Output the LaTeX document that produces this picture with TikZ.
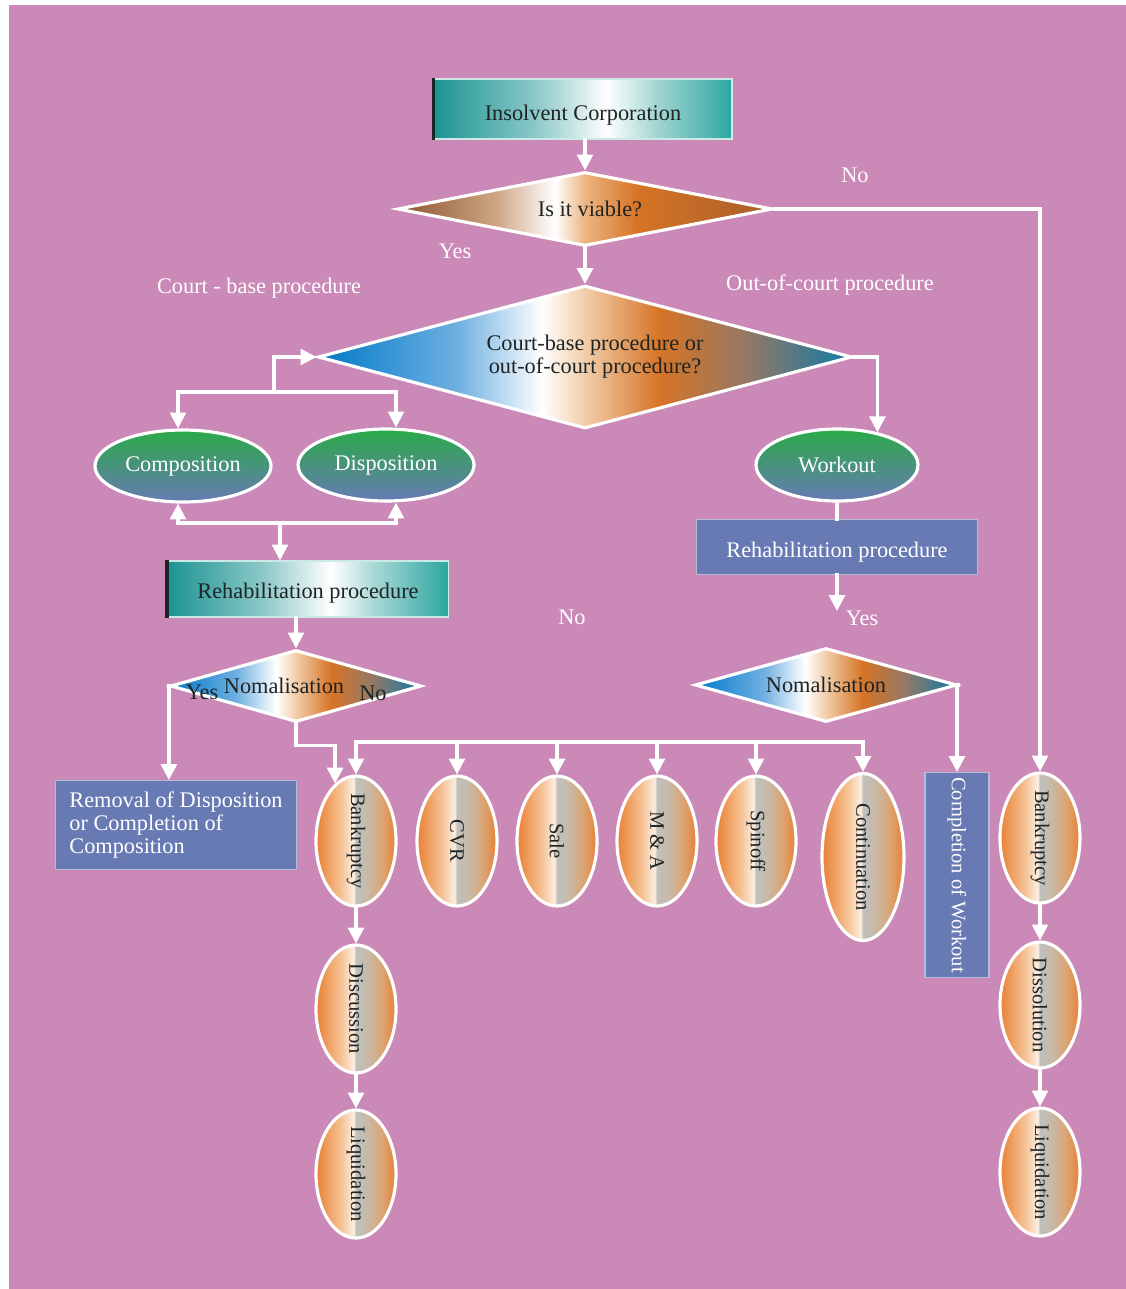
\documentclass[tikz,border=0pt]{standalone}
\usepackage{fontspec}
\setmainfont{Liberation Serif}
\usetikzlibrary{shapes.geometric,arrows.meta}

\newcommand{\pxl}{0.02cm}

\definecolor{bgpink}{RGB}{202,137,182}
\definecolor{inkdark}{RGB}{30,35,35}
\definecolor{slate}{RGB}{103,122,180}
\definecolor{leafgreen}{RGB}{42,170,72}
\definecolor{tealL}{RGB}{28,148,146}
\definecolor{tealM}{RGB}{140,200,200}
\definecolor{tealN}{RGB}{165,215,212}
\definecolor{tealR}{RGB}{44,166,160}
\definecolor{brownL}{RGB}{140,84,48}
\definecolor{tanL}{RGB}{205,165,130}
\definecolor{peach}{RGB}{236,180,130}
\definecolor{orangeD}{RGB}{214,116,38}
\definecolor{brownR}{RGB}{168,94,40}
\definecolor{blueL}{RGB}{0,122,200}
\definecolor{blueM}{RGB}{110,175,225}
\definecolor{peachL}{RGB}{242,205,170}
\definecolor{dusk}{RGB}{150,120,100}
\definecolor{tealB}{RGB}{15,122,168}
\definecolor{ovalO}{RGB}{232,128,52}
\definecolor{ovalP}{RGB}{246,196,152}
\definecolor{ovalW}{RGB}{252,238,225}
\definecolor{ovalG}{RGB}{192,192,186}
\definecolor{ovalT}{RGB}{218,166,118}

\pgfdeclarehorizontalshading{tealbar}{100bp}{color(0bp)=(tealL); color(25bp)=(tealL); color(42bp)=(tealM); color(54bp)=(white); color(62bp)=(tealN); color(75bp)=(tealR); color(100bp)=(tealR)}
\pgfdeclarehorizontalshading{brownrhomb}{100bp}{color(0bp)=(brownL); color(25bp)=(brownL); color(38bp)=(tanL); color(46bp)=(white); color(50bp)=(peach); color(57bp)=(orangeD); color(75bp)=(brownR); color(100bp)=(brownR)}
\pgfdeclarehorizontalshading{bluerhomb}{100bp}{color(0bp)=(blueL); color(25bp)=(blueL); color(38bp)=(blueM); color(46bp)=(white); color(50bp)=(peachL); color(57bp)=(orangeD); color(65bp)=(dusk); color(75bp)=(tealB); color(100bp)=(tealB)}
\pgfdeclarehorizontalshading{ovalshade}{100bp}{color(0bp)=(ovalO); color(25bp)=(ovalO); color(41bp)=(ovalP); color(48.5bp)=(ovalW); color(50bp)=(ovalG); color(56bp)=(ovalG!80!ovalT); color(66bp)=(ovalT); color(75bp)=(ovalO); color(100bp)=(ovalO)}

\tikzset{
  conn/.style={white, line width=1.8pt, line cap=rect},
  arr/.style={conn, -{Triangle[width=9pt,length=9pt]}},
  tealbox/.style={rectangle, shade, shading=tealbar, draw=white!75!tealR, line width=0.6pt, text=inkdark, inner sep=0pt},
  slatebox/.style={rectangle, fill=slate, draw=slate!50!white, line width=0.6pt, text=white, inner sep=0pt},
  rhomb/.style={diamond, shade, draw=white, line width=1.8pt, text=inkdark, inner sep=0pt, align=center},
  leaf/.style={ellipse, top color=leafgreen, bottom color=slate, draw=white, line width=1.8pt, text=white, inner sep=0pt, minimum width=176*\pxl, minimum height=72*\pxl},
  oval/.style={ellipse, shade, shading=ovalshade, draw=white, line width=1.8pt, inner sep=0pt, minimum width=80*\pxl},
  vtext/.style={rotate=-90, text=inkdark, font=\fontsize{11.7}{13}\selectfont},
  note/.style={text=white},
}

\begin{document}
\begin{tikzpicture}[x=0.02cm,y=-0.02cm,every node/.style={font=\fontsize{12.7}{13}\selectfont}]

% canvas
\useasboundingbox (0,0) rectangle (1126,1289);
\fill[bgpink] (9,5) rectangle (1126,1289);

% top
\node[tealbox, minimum width=298*\pxl, minimum height=60*\pxl, text height=0.46cm, text depth=0pt] (ins) at (583,109) {Insolvent Corporation};
\draw[inkdark, line width=1.8pt] (ins.north west) -- (ins.south west);
\node[rhomb, shading=brownrhomb, minimum width=375*\pxl, minimum height=74*\pxl, aspect=5.07] (viable) at (585,209) {\hspace*{0.2cm}Is it viable?};
\node[rhomb, shading=bluerhomb, minimum width=534*\pxl, minimum height=143*\pxl, aspect=3.73] (court) at (585,357) {\hspace*{0.4cm}Court-base procedure or\\\hspace*{0.4cm}out-of-court procedure?};

% court-base branch
\node[leaf] (comp) at (183,466) {Composition};
\node[leaf] (disp) at (386,465) {Disposition};
\node[tealbox, minimum width=281*\pxl, minimum height=56*\pxl, text height=0.36cm, text depth=0pt] (rehabL) at (308,589) {Rehabilitation procedure};
\draw[inkdark, line width=1.8pt] (rehabL.north west) -- (rehabL.south west);
\node[rhomb, shading=bluerhomb, minimum width=251*\pxl, minimum height=72*\pxl, aspect=3.49] (normL) at (296,686) {Nomalisation\hspace*{0.48cm}};
\node[slatebox, align=left, minimum width=241*\pxl, minimum height=89*\pxl] (removal) at (176,825) {Removal of Disposition\\or Completion of\\Composition};

% outcomes
\node[oval, minimum height=130*\pxl, label={[vtext]center:Bankruptcy}] (bk1) at (356,841) {};
\node[oval, minimum height=130*\pxl, label={[vtext]center:CVR}] (cvr) at (457,841) {};
\node[oval, minimum height=130*\pxl, label={[vtext]center:Sale}] (sale) at (557,841) {};
\node[oval, minimum height=130*\pxl, label={[vtext]center:M \& A}] (ma) at (657,841) {};
\node[oval, minimum height=130*\pxl, label={[vtext]center:Spinoff}] (spin) at (756,841) {};
\node[oval, minimum width=82*\pxl, minimum height=167*\pxl, label={[vtext]center:Continuation}] (contn) at (863,857) {};
\node[oval, minimum height=128*\pxl, label={[vtext]center:Discussion}] (disc) at (356,1009) {};
\node[oval, minimum height=128*\pxl, label={[vtext]center:Liquidation}] (liq1) at (356,1174) {};

% out-of-court branch
\node[leaf, minimum width=162*\pxl] (work) at (837,465) {Workout};
\node[slatebox, minimum width=281*\pxl, minimum height=55*\pxl, text height=0.4cm, text depth=0pt] (rehabR) at (837,547) {Rehabilitation procedure};
\node[rhomb, shading=bluerhomb, minimum width=262*\pxl, minimum height=74*\pxl, aspect=3.54] (normR) at (826,685) {Nomalisation};
\node[slatebox, minimum width=64*\pxl, minimum height=205*\pxl, label={[vtext, text=white]center:Completion of Workout}] (done) at (957,875) {};

% not viable
\node[oval, minimum height=130*\pxl, label={[vtext]center:Bankruptcy}] (bk2) at (1040,838) {};
\node[oval, minimum height=126*\pxl, label={[vtext]center:Dissolution}] (diss) at (1040,1005) {};
\node[oval, minimum height=128*\pxl, label={[vtext]center:Liquidation}] (liq2) at (1040,1172) {};

% labels
\node[note] (no1) at (855,175) {No};
\node[note] (yes1) at (455,251) {Yes};
\node[note] (courtlab) at (259,288) {Court - base procedure};
\node[note] (outlab) at (830,285) {Out-of-court procedure};
\node[note] (no2) at (572,617) {No};
\node[note] (yes2) at (862,618) {Yes};
\node[text=inkdark] (yes3) at (202,692) {Yes};
\node[text=inkdark] (no3) at (373,693) {No};

% connectors
\draw[arr] (ins.south -| viable.north) -- (viable.north);
\draw[arr] (viable.east) -| (bk2.north);
\draw[arr] (viable) -- (court);
\draw[arr] (court.east) -| (work.39);
\coordinate (split) at (274,392);
\draw[arr] (split) |- (court.west);
\draw[arr] (split) -| ([xshift=-5*\pxl]comp.north);
\draw[arr] (split) -| ([xshift=10*\pxl]disp.north);
\coordinate (merge) at (280,523);
\draw[arr] (merge) -| ([xshift=-5*\pxl]comp.south);
\draw[arr] (merge) -| ([xshift=10*\pxl]disp.south);
\draw[arr] (merge) -- (merge |- rehabL.north);
\draw[arr] (normL.north |- rehabL.south) -- (normL.north);
\draw[arr] (normL.west) -- (normL.west |- removal.north);
\draw[arr] (normL.south) -- ++(0,22) -| (bk1.110);
\coordinate (bar) at (0,742);
\draw[conn] (bar -| bk1.north) -- (bar -| contn.north);
\foreach \o in {bk1,cvr,sale,ma,spin,contn} \draw[arr] (bar -| \o.north) -- (\o.north);
\draw[arr] (bk1) -- (disc);
\draw[arr] (disc) -- (liq1);
\draw[conn] (work) -- (rehabR);
\draw[arr] (rehabR.south) -- ++(0,36);
\draw[arr] (normR.east) -| (done.north);
\draw[arr] (bk2) -- (diss);
\draw[arr] (diss) -- (liq2);

\end{tikzpicture}
\end{document}
